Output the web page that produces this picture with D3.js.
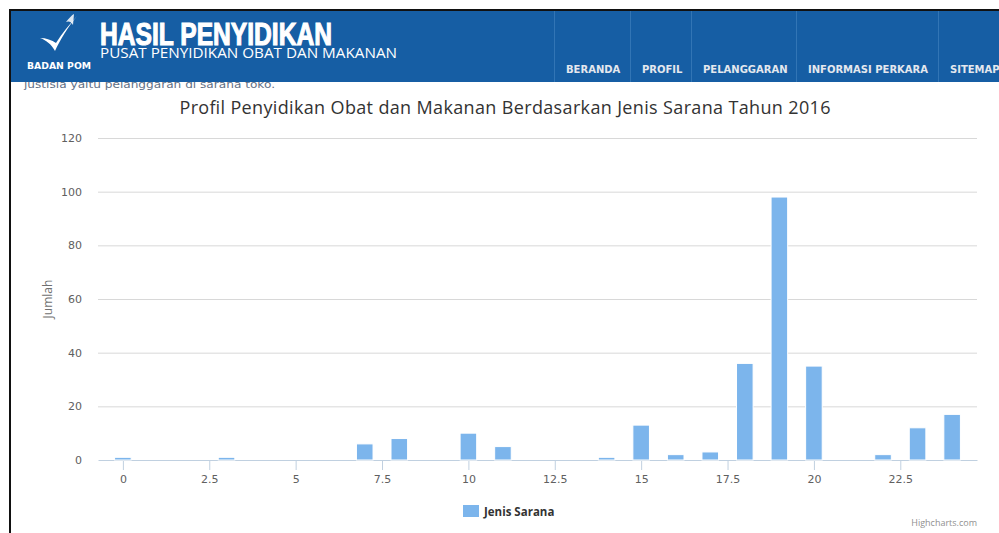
<!DOCTYPE html>
<html>
<head>
<meta charset="utf-8">
<script src="https://cdn.jsdelivr.net/npm/d3@7"></script>
<style>
  html, body { margin: 0; padding: 0; background: #fff; }
  svg { display: block; }
</style>
</head>
<body>
<svg id="chart" width="999" height="533"></svg>
<script>
// data
const categories = d3.range(0, 25)
const values = [1, 0, 0, 1, 0, 0, 0, 6, 8, 0, 10, 5, 0, 0, 1, 13, 2, 3, 36, 98, 35, 0, 2, 12, 17]
const xTicks = [0, 2.5, 5, 7.5, 10, 12.5, 15, 17.5, 20, 22.5]
const yTicks = [0, 20, 40, 60, 80, 100, 120]
const navItems = ['BERANDA', 'PROFIL', 'PELANGGARAN', 'INFORMASI PERKARA', 'SITEMAP']
const navSeps = [554, 630, 691, 796, 938]

const svg = d3.select('#chart')
const plot = {left: 98, right: 977, top: 138, bottom: 460}

// text under the header, partly covered
svg.append('text')
  .attr('x', 24).attr('y', 88)
  .attr('font-family', 'DejaVu Sans, Verdana, sans-serif')
  .attr('font-size', 11)
  .attr('fill', '#5f6f86')
  .attr('textLength', 251)
  .attr('lengthAdjust', 'spacingAndGlyphs')
  .text('justisia yaitu pelanggaran di sarana toko.')

// header bar
const header = svg.append('g')
header.append('rect')
  .attr('x', 10).attr('y', 11).attr('width', 989).attr('height', 71)
  .attr('fill', '#165ea4')

header.selectAll('line.sep')
  .data(navSeps)
  .enter()
  .append('line')
  .attr('class', 'sep')
  .attr('x1', (d) => d + 0.5).attr('x2', (d) => d + 0.5)
  .attr('y1', 11).attr('y2', 82)
  .attr('stroke', '#3275b5')

header.selectAll('text.nav')
  .data(navItems)
  .enter()
  .append('text')
  .attr('class', 'nav')
  .attr('x', (d, i) => navSeps[i] + 12)
  .attr('y', 73)
  .attr('font-family', 'DejaVu Sans, Verdana, sans-serif')
  .attr('font-weight', 'bold')
  .attr('font-size', 10)
  .attr('fill', '#e4e8ee')
  .text((d) => d)

// logo swoosh
const logo = header.append('g').attr('fill', '#fff')
logo.append('path')
  .attr('d', 'M40,38 C46,40 51,44 55,51 C60,40 68,27 77,16 C70,24 62,33 56,43 C52,40 46,38 40,38 Z')
logo.append('path')
  .attr('d', 'M66,22 C69,18 72,15 74,14 L73,25 C71,21 68,21 66,22 Z')
  .attr('opacity', 0.85)
logo.append('text')
  .attr('x', 27).attr('y', 69)
  .attr('font-family', 'DejaVu Sans, Verdana, sans-serif')
  .attr('font-weight', 'bold')
  .attr('font-size', 9)
  .attr('textLength', 64)
  .attr('lengthAdjust', 'spacingAndGlyphs')
  .text('BADAN POM')

header.append('text')
  .attr('x', 100).attr('y', 45)
  .attr('font-family', 'Liberation Sans Narrow, Liberation Sans, sans-serif')
  .attr('font-weight', 'bold')
  .attr('font-size', 31)
  .attr('fill', '#fff')
  .attr('stroke', '#fff')
  .attr('stroke-width', 1.1)
  .attr('textLength', 232)
  .attr('lengthAdjust', 'spacingAndGlyphs')
  .text('HASIL PENYIDIKAN')

header.append('text')
  .attr('x', 100).attr('y', 58)
  .attr('font-family', 'Open Sans, sans-serif')
  .attr('font-size', 14.5)
  .attr('fill', '#fff')
  .attr('textLength', 297)
  .attr('lengthAdjust', 'spacingAndGlyphs')
  .text('PUSAT PENYIDIKAN OBAT DAN MAKANAN')

// page frame
svg.append('line')
  .attr('x1', 9).attr('x2', 999).attr('y1', 10).attr('y2', 10)
  .attr('stroke', '#111').attr('stroke-width', 2)
svg.append('line')
  .attr('x1', 10).attr('x2', 10).attr('y1', 9).attr('y2', 533)
  .attr('stroke', '#111').attr('stroke-width', 2)

// chart
const x = d3.scaleLinear().domain([-0.72, 24.72]).range([plot.left, plot.right])
const y = d3.scaleLinear().domain([0, 120]).range([plot.bottom, plot.top])

svg.append('text')
  .attr('x', 505).attr('y', 114)
  .attr('text-anchor', 'middle')
  .attr('font-family', 'Open Sans, sans-serif')
  .attr('font-size', 18)
  .attr('fill', '#333')
  .attr('textLength', 651)
  .attr('lengthAdjust', 'spacing')
  .text('Profil Penyidikan Obat dan Makanan Berdasarkan Jenis Sarana Tahun 2016')

const yAxis = svg.append('g')
  .attr('transform', `translate(${plot.left}, 0)`)
  .call(d3.axisLeft(y).tickValues(yTicks).tickSize(-(plot.right - plot.left)).tickPadding(16))
yAxis.select('.domain').remove()
yAxis.selectAll('.tick line')
  .attr('stroke', (d) => d === 0 ? 'none' : '#d8d8d8')
yAxis.selectAll('.tick text')
  .attr('font-family', 'DejaVu Sans, Verdana, sans-serif')
  .attr('font-size', 11)
  .attr('fill', '#606060')

svg.append('text')
  .attr('transform', 'translate(52, 299) rotate(-90)')
  .attr('text-anchor', 'middle')
  .attr('font-family', 'Open Sans, sans-serif')
  .attr('font-size', 12)
  .attr('fill', '#707070')
  .text('Jumlah')

const xAxis = svg.append('g')
  .attr('transform', `translate(0, ${plot.bottom})`)
  .call(d3.axisBottom(x).tickValues(xTicks).tickFormat(d3.format('')).tickSize(10).tickSizeOuter(0).tickPadding(5))
xAxis.select('.domain').attr('stroke', '#c0d0e0')
xAxis.selectAll('.tick line').attr('stroke', '#c0d0e0')
xAxis.selectAll('.tick text')
  .attr('font-family', 'DejaVu Sans, Verdana, sans-serif')
  .attr('font-size', 11)
  .attr('fill', '#606060')

const barW = x(0.24) - x(-0.24)
svg.append('g')
  .selectAll('rect')
  .data(values)
  .enter()
  .append('rect')
  .attr('x', (d, i) => x(categories[i]) - barW / 2)
  .attr('y', (d) => y(d))
  .attr('width', barW)
  .attr('height', (d) => plot.bottom - y(d))
  .attr('fill', '#7cb5ec')
  .attr('stroke', '#fff')
  .attr('stroke-width', 1)

// legend
svg.append('rect')
  .attr('x', 463).attr('y', 505).attr('width', 16).attr('height', 12)
  .attr('fill', '#7cb5ec')
svg.append('text')
  .attr('x', 484).attr('y', 516)
  .attr('font-family', 'Open Sans, sans-serif')
  .attr('font-weight', 'bold')
  .attr('font-size', 11.5)
  .attr('fill', '#333')
  .text('Jenis Sarana')

svg.append('text')
  .attr('x', 977).attr('y', 526)
  .attr('text-anchor', 'end')
  .attr('font-family', 'Open Sans, sans-serif')
  .attr('font-size', 9)
  .attr('fill', '#909090')
  .text('Highcharts.com')
</script>
</body>
</html>
